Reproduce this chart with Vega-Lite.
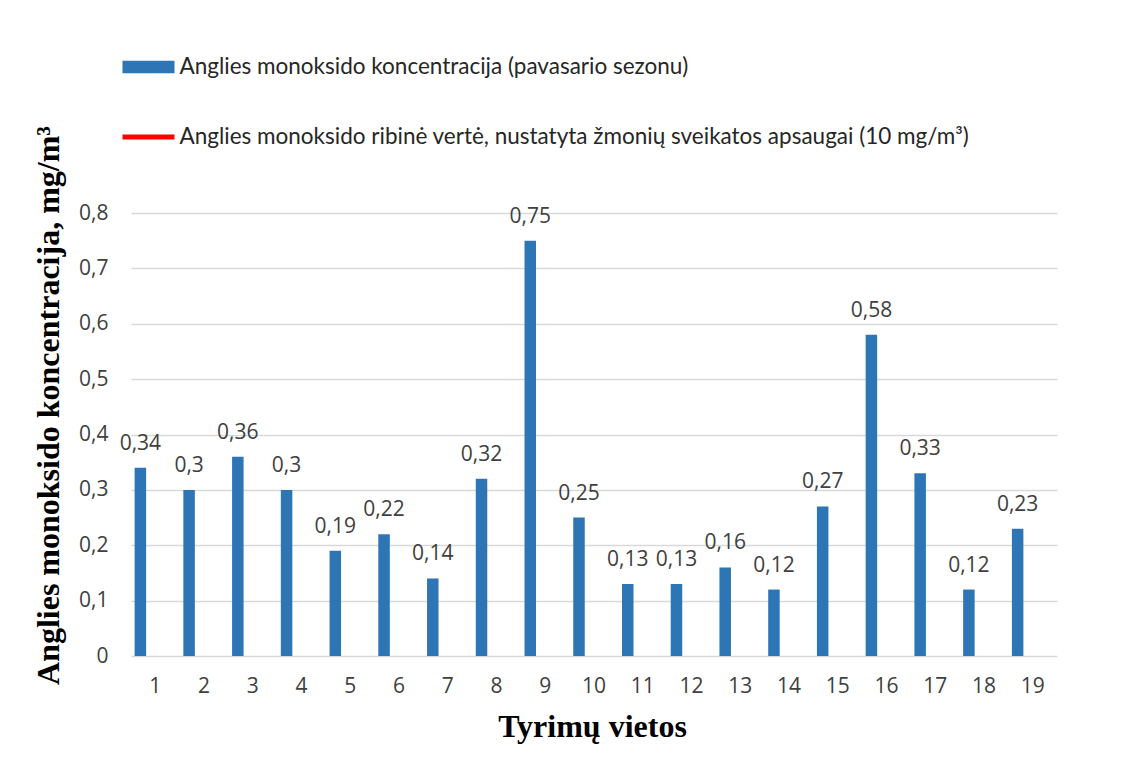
{
  "$schema": "https://vega.github.io/schema/vega-lite/v6.json",
  "width": 926,
  "height": 443,
  "autosize": {"type": "none"},
  "padding": {"left": 131, "top": 213, "right": 83, "bottom": 104},
  "background": "white",
  "config": {
    "view": {"stroke": null},
    "locale": {"number": {"decimal": ",", "thousands": " ", "grouping": [3], "currency": ["", " €"]}}
  },
  "data": {
    "values": [
      {"site": 1, "value": 0.34},
      {"site": 2, "value": 0.3},
      {"site": 3, "value": 0.36},
      {"site": 4, "value": 0.3},
      {"site": 5, "value": 0.19},
      {"site": 6, "value": 0.22},
      {"site": 7, "value": 0.14},
      {"site": 8, "value": 0.32},
      {"site": 9, "value": 0.75},
      {"site": 10, "value": 0.25},
      {"site": 11, "value": 0.13},
      {"site": 12, "value": 0.13},
      {"site": 13, "value": 0.16},
      {"site": 14, "value": 0.12},
      {"site": 15, "value": 0.27},
      {"site": 16, "value": 0.58},
      {"site": 17, "value": 0.33},
      {"site": 18, "value": 0.12},
      {"site": 19, "value": 0.23}
    ]
  },
  "encoding": {
    "x": {
      "field": "site",
      "type": "ordinal",
      "scale": {"paddingInner": 0, "paddingOuter": 0},
      "axis": {
        "title": "Tyrimų vietos",
        "titleFont": "Liberation Serif",
        "titleFontSize": 32,
        "titleFontWeight": "bold",
        "titleColor": "#000000",
        "titleX": 461,
        "titleY": 80,
        "titleAlign": "center",
        "titleBaseline": "alphabetic",
        "labelAngle": 0,
        "labelFont": "Open Sans",
        "labelFontSize": 21,
        "labelColor": "#404040",
        "labelPadding": 30,
        "labelBaseline": "middle",
        "ticks": false,
        "domain": false,
        "grid": false
      }
    },
    "y": {
      "field": "value",
      "type": "quantitative",
      "scale": {"domain": [0, 0.8], "nice": false},
      "axis": {
        "title": "Anglies monoksido koncentracija,  mg/m³",
        "titleFont": "Liberation Serif",
        "titleFontSize": 32,
        "titleFontWeight": "bold",
        "titleColor": "#000000",
        "titleX": -83,
        "titleY": 192,
        "titleAlign": "center",
        "titleBaseline": "middle",
        "values": [0, 0.1, 0.2, 0.3, 0.4, 0.5, 0.6, 0.7, 0.8],
        "format": ".1~f",
        "labelFont": "Open Sans",
        "labelFontSize": 21,
        "labelColor": "#404040",
        "labelPadding": 23,
        "ticks": false,
        "domain": false,
        "grid": true,
        "gridColor": "#d9d9d9",
        "gridWidth": 1.5
      }
    }
  },
  "layer": [
    {
      "mark": {"type": "bar", "width": {"band": 0.236}, "xOffset": -15},
      "encoding": {
        "color": {
          "datum": "Anglies monoksido koncentracija (pavasario sezonu)",
          "scale": {
            "domain": [
              "Anglies monoksido koncentracija (pavasario sezonu)",
              "Anglies monoksido ribinė vertė, nustatyta žmonių sveikatos apsaugai (10 mg/m³)"
            ],
            "range": ["#2E75B6", "#FF0000"]
          },
          "legend": {
            "orient": "none",
            "legendX": -8.5,
            "legendY": -172,
            "title": null,
            "padding": 0,
            "direction": "vertical",
            "symbolSize": 2704,
            "symbolStrokeWidth": 0,
            "rowPadding": 32,
            "labelOffset": 5,
            "labelFont": "Lato",
            "labelFontSize": 22.5,
            "labelColor": "#262626",
            "labelLimit": 1000,
            "encode": {
              "symbols": {
                "update": {
                  "shape": {"signal": "indexof(datum.value, 'ribin') >= 0 ? 'M-1,-0.1H1V0.1H-1Z' : 'M-1,-0.24H1V0.24H-1Z'"}
                }
              }
            }
          }
        }
      }
    },
    {
      "mark": {
        "type": "text",
        "xOffset": -15,
        "dy": -18,
        "baseline": "alphabetic",
        "font": "Open Sans",
        "fontSize": 21,
        "color": "#404040"
      },
      "encoding": {
        "text": {"field": "value", "type": "quantitative", "format": "~g"}
      }
    }
  ]
}
